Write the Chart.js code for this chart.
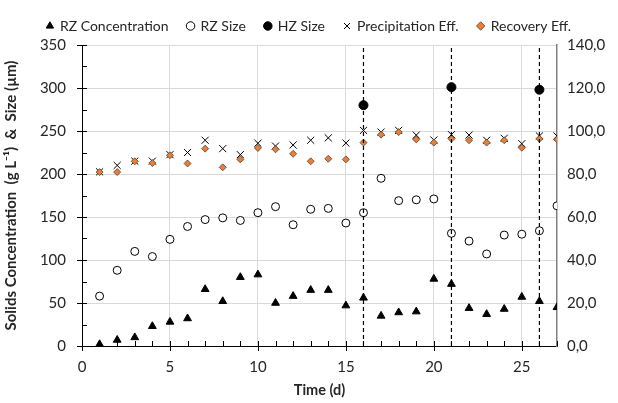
<!DOCTYPE html>
<html>
<head>
<meta charset="utf-8">
<script src="https://cdn.jsdelivr.net/npm/chart.js@4.4.1/dist/chart.umd.min.js"></script>
<style>
  html, body { margin: 0; padding: 0; background: #fff; }
  #wrap { width: 618px; height: 403px; }
</style>
</head>
<body>
<div id="wrap"><canvas id="chart" width="618" height="403"></canvas></div>
<script>
// values
const days = [1, 2, 3, 4, 5, 6, 7, 8, 9, 10, 11, 12, 13, 14, 15, 16, 17, 18, 19, 20, 21, 22, 23, 24, 25, 26, 27];
const rzConc = [2, 7, 10, 23, 28, 32, 66, 52, 80, 83, 50, 58, 65, 65, 47, 56, 35, 39, 40, 78, 72, 44, 37, 43, 57, 52, 45];
const rzSize = [58, 88, 110, 104, 124, 139, 147, 149, 146, 155, 162, 141, 159, 160, 143, 155, 195, 169, 170, 171, 131, 122, 107, 129, 130, 134, 163];
const precipEff = [81, 84, 86, 86, 89, 90, 95.7, 91.8, 89, 94.3, 93, 93.5, 95.7, 96.8, 94.4, 100.3, 99.5, 100.3, 98.1, 95.8, 98.3, 98.1, 95.7, 96.6, 94.1, 97.7, 97.7];
const recoveryEff = [80.9, 80.9, 85.9, 85.1, 88.7, 84.9, 91.8, 83.1, 86.8, 92.1, 91.5, 89.4, 85.9, 87.1, 86.8, 94.6, 98.3, 99.5, 96.1, 94.6, 96.4, 95.7, 94.6, 95.7, 92.2, 96.4, 96.1];
const hzDays = [16, 21, 26];
const hzSize = [280, 301, 298];

const FONT = 'Lato';
const TEXT = '#262626';

function pts(xs, ys) {
    return xs.map((d, i) => ({ x: d, y: ys[i] }));
}

// dashed vertical markers at the HZ sampling days
const markerSets = hzDays.map(d => ({
    label: 'marker',
    data: [{ x: d, y: 0 }, { x: d, y: 350 }],
    showLine: true,
    borderColor: '#000',
    borderWidth: 1.2,
    borderDash: [4, 3],
    pointRadius: 0,
    yAxisID: 'y',
    order: 0
}));

// legend sits in a fixed 45px band
const legendSpace = {
    id: 'legendSpace',
    beforeInit(chart) {
        const fit = chart.legend.fit;
        chart.legend.fit = function () {
            fit.bind(chart.legend)();
            this.height = 45;
        };
    }
};

// small inner ticks like the original axes
const axisTicks = {
    id: 'axisTicks',
    afterDraw(chart) {
        const { ctx, scales: { x, y } } = chart;
        ctx.save();
        ctx.strokeStyle = '#000';
        ctx.lineWidth = 1;
        ctx.beginPath();
        for (let d = x.min; d <= x.max; d++) {
            const px = Math.round(x.getPixelForValue(d)) + 0.5;
            const major = d % 5 === 0;
            ctx.moveTo(px, y.bottom + (major ? 5 : 0));
            ctx.lineTo(px, y.bottom - 5);
        }
        for (let v = y.min; v <= y.max; v += 25) {
            const py = Math.round(y.getPixelForValue(v)) + 0.5;
            const major = v % 50 === 0;
            ctx.moveTo(x.left - (major ? 5 : 0), py);
            ctx.lineTo(x.left + 5, py);
        }
        ctx.stroke();
        ctx.restore();
    }
};

new Chart(document.getElementById('chart'), {
    type: 'scatter',
    data: {
        datasets: [
            {
                label: 'RZ Concentration',
                data: pts(days, rzConc),
                pointStyle: 'triangle',
                pointRadius: 4.5,
                backgroundColor: '#000',
                borderColor: '#000',
                borderWidth: 1,
                yAxisID: 'y',
                order: 5
            },
            {
                label: 'RZ Size',
                data: pts(days, rzSize),
                pointStyle: 'circle',
                pointRadius: 4,
                backgroundColor: '#fff',
                borderColor: '#000',
                borderWidth: 1,
                yAxisID: 'y',
                order: 4
            },
            {
                label: 'HZ Size',
                data: pts(hzDays, hzSize),
                pointStyle: 'circle',
                pointRadius: 4.5,
                backgroundColor: '#000',
                borderColor: '#000',
                borderWidth: 1,
                yAxisID: 'y',
                order: 3
            },
            {
                label: 'Precipitation Eff.',
                data: pts(days, precipEff),
                pointStyle: 'crossRot',
                pointRadius: 5,
                backgroundColor: '#000',
                borderColor: '#000',
                borderWidth: 1,
                yAxisID: 'y1',
                order: 2
            },
            {
                label: 'Recovery Eff.',
                data: pts(days, recoveryEff),
                pointStyle: 'rectRot',
                pointRadius: 3.5,
                backgroundColor: '#ED7D31',
                borderColor: '#404040',
                borderWidth: 0.75,
                yAxisID: 'y1',
                order: 1
            },
            ...markerSets
        ]
    },
    options: {
        responsive: false,
        animation: false,
        layout: { padding: 0 },
        plugins: {
            tooltip: { enabled: false },
            legend: {
                display: true,
                position: 'top',
                labels: {
                    usePointStyle: true,
                    boxWidth: 6,
                    boxHeight: 6,
                    padding: 19,
                    color: TEXT,
                    font: { family: FONT, size: 14 },
                    filter: item => item.text !== 'marker',
                    sort: (a, b) => a.datasetIndex - b.datasetIndex
                }
            }
        },
        scales: {
            x: {
                type: 'linear',
                min: 0,
                max: 27,
                afterFit: s => { s.height = 57; },
                border: { display: true, color: '#000', width: 1 },
                grid: {
                    drawTicks: false,
                    color: c => (c.tick && c.tick.value % 5 === 0 && c.tick.value > 0) ? '#d9d9d9' : 'transparent'
                },
                ticks: {
                    stepSize: 5,
                    padding: 12,
                    maxRotation: 0,
                    autoSkip: false,
                    color: TEXT,
                    font: { family: FONT, size: 15 },
                    callback: v => (v % 5 === 0 ? v : '')
                },
                title: {
                    display: true,
                    text: 'Time (d)',
                    color: TEXT,
                    font: { family: FONT, size: 14.5, weight: 'bold' },
                    padding: { top: 4 }
                }
            },
            y: {
                position: 'left',
                min: 0,
                max: 350,
                afterFit: s => { s.width = 82; },
                border: { display: true, color: '#000', width: 1 },
                grid: { drawTicks: false, color: c => (c.tick && c.tick.value > 0 ? '#d9d9d9' : 'transparent') },
                ticks: {
                    stepSize: 50,
                    padding: 16,
                    color: TEXT,
                    font: { family: FONT, size: 15 }
                },
                title: {
                    display: true,
                    text: 'Solids Concentration  (g L\u207B\u00B9)  &  Size (\u00B5m)',
                    color: TEXT,
                    font: { family: FONT, size: 15, weight: 'bold' },
                    padding: { top: 2, bottom: 4 }
                }
            },
            y1: {
                position: 'right',
                min: 0,
                max: 140,
                afterFit: s => { s.width = 61; },
                border: { display: true, color: '#808080', width: 1.5 },
                grid: { display: false, drawTicks: false },
                ticks: {
                    stepSize: 20,
                    padding: 10,
                    color: TEXT,
                    font: { family: FONT, size: 15 },
                    callback: v => v.toFixed(1).replace('.', ',')
                }
            }
        }
    },
    plugins: [legendSpace, axisTicks]
});
</script>
</body>
</html>
